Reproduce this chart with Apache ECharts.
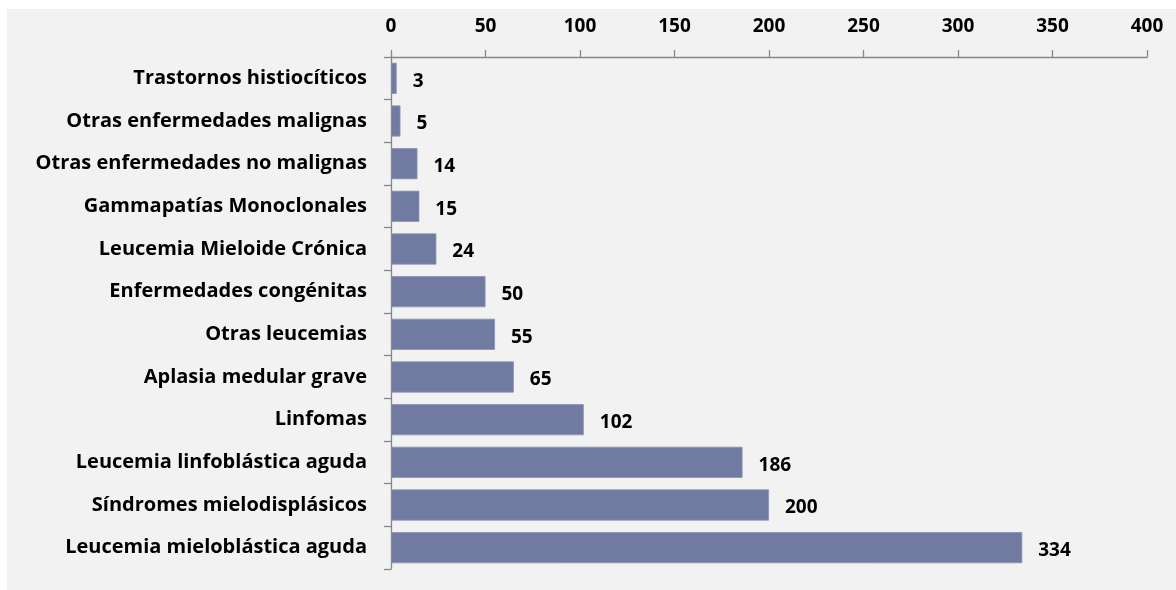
<!DOCTYPE html>
<html>
<head>
<meta charset="utf-8">
<script src="https://cdn.jsdelivr.net/npm/echarts@6/dist/echarts.min.js"></script>
<style>
html,body{margin:0;padding:0;background:#ffffff;}
#chart{width:1176px;height:590px;}
</style>
</head>
<body>
<div id="chart"></div>
<script>
const categories = [
  'Trastornos histiocíticos',
  'Otras enfermedades malignas',
  'Otras enfermedades no malignas',
  'Gammapatías Monoclonales',
  'Leucemia Mieloide Crónica',
  'Enfermedades congénitas',
  'Otras leucemias',
  'Aplasia medular grave',
  'Linfomas',
  'Leucemia linfoblástica aguda',
  'Síndromes mielodisplásicos',
  'Leucemia mieloblástica aguda'
];
const values = [3, 5, 14, 15, 24, 50, 55, 65, 102, 186, 200, 334];
const axisMin = 0, axisMax = 400, axisStep = 50;

const FONT = '"Open Sans"';
const chart = echarts.init(document.getElementById('chart'));
chart.setOption({
  animation: false,
  graphic: [{
    type: 'rect', z: -10, silent: true,
    shape: {x: 7, y: 9, width: 1169, height: 581},
    style: {fill: '#f2f2f2'}
  }],
  grid: {left: 391, right: 29, top: 57, bottom: 21, containLabel: false},
  xAxis: {
    type: 'value', position: 'top',
    min: axisMin, max: axisMax, interval: axisStep,
    axisLine: {show: true, lineStyle: {color: '#868686', width: 1.3}},
    axisTick: {show: true, length: 7, lineStyle: {color: '#868686', width: 1.3}},
    splitLine: {show: false},
    axisLabel: {margin: 21, color: '#000', fontFamily: FONT, fontWeight: 'bold', fontSize: 19}
  },
  yAxis: {
    type: 'category', inverse: true, data: categories,
    axisLine: {show: true, lineStyle: {color: '#868686', width: 1.3}},
    axisTick: {show: true, length: 7, lineStyle: {color: '#868686', width: 1.3}},
    axisLabel: {margin: 24, color: '#000', fontFamily: FONT, fontWeight: 'bold', fontSize: 20}
  },
  series: [{
    type: 'bar', data: values, barCategoryGap: '27%',
    itemStyle: {color: '#717ba2', borderColor: '#8a93b5', borderWidth: 0.8},
    label: {show: true, position: 'right', distance: 16, offset: [0, 3],
      color: '#000', fontFamily: FONT, fontWeight: 'bold', fontSize: 19}
  }]
});
</script>
</body>
</html>
